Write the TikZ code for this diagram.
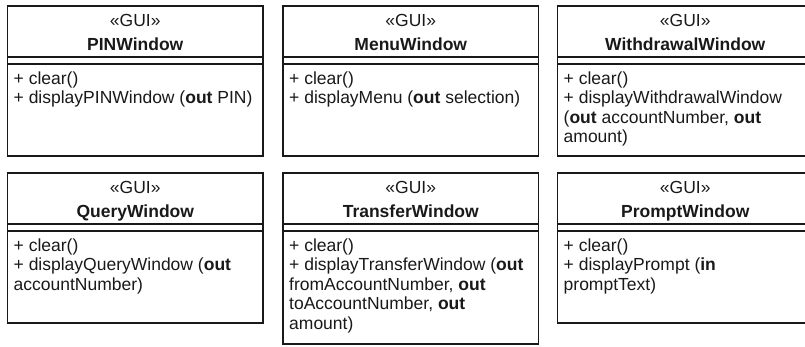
\documentclass[tikz,border=0pt]{standalone}
\usepackage{fontspec}
\setmainfont{Liberation Sans}
\begin{document}
\begin{tikzpicture}[x=1pt,y=-1pt,
  boxline/.style={draw=black!90, line width=1.3pt},
  txt/.style={inner sep=0pt, text=black!90, font=\fontsize{17.5}{19.5}\selectfont},
  stereo/.style={txt, anchor=base},
  cname/.style={txt, anchor=base, font=\fontsize{17.5}{19.5}\selectfont\bfseries},
  opline/.style={txt, anchor=base west}]
\useasboundingbox (0,0) rectangle (805,346);

% Row 1 top = 6, Row 2 top = 173; columns at 7.5, 283, 557.5; width 255.5
\newcommand{\classframe}[4]{% name, left, top, height
  \draw[boxline] (#2,#3) rectangle ++(255.5,#4);
  \draw[boxline] (#2,#3+51) -- ++(255.5,0);
  \draw[boxline] (#2,#3+58) -- ++(255.5,0);
  \coordinate (#1-c) at (#2+127.75,#3);
}

% PINWindow
\classframe{pin}{7.5}{6}{150}
\node[stereo] (pin-st) at ([yshift=-20pt]pin-c) {«GUI»};
\node[cname] (pin-nm) at ([yshift=-44pt]pin-c) {PINWindow};
\node[opline] (pin-o1) at (13.5,84) {+ clear()};
\node[opline] (pin-o2) at (13.5,103.5) {+ displayPINWindow (\textbf{out} PIN)};

% MenuWindow
\classframe{menu}{283}{6}{150}
\node[stereo] (menu-st) at ([yshift=-20pt]menu-c) {«GUI»};
\node[cname] (menu-nm) at ([yshift=-44pt]menu-c) {MenuWindow};
\node[opline] (menu-o1) at (289,84) {+ clear()};
\node[opline] (menu-o2) at (289,103.5) {+ displayMenu (\textbf{out} selection)};

% WithdrawalWindow
\classframe{wd}{557.5}{6}{150}
\node[stereo] (wd-st) at ([yshift=-20pt]wd-c) {«GUI»};
\node[cname] (wd-nm) at ([yshift=-44pt]wd-c) {WithdrawalWindow};
\node[opline] (wd-o1) at (563.5,84) {+ clear()};
\node[opline] (wd-o2) at (563.5,103.5) {+ displayWithdrawalWindow};
\node[opline] (wd-o3) at (563.5,123) {(\textbf{out} accountNumber, \textbf{out}};
\node[opline] (wd-o4) at (563.5,142.5) {amount)};

% QueryWindow
\classframe{qw}{7.5}{173}{150}
\node[stereo] (qw-st) at ([yshift=-20pt]qw-c) {«GUI»};
\node[cname] (qw-nm) at ([yshift=-44pt]qw-c) {QueryWindow};
\node[opline] (qw-o1) at (13.5,251) {+ clear()};
\node[opline] (qw-o2) at (13.5,270.5) {+ displayQueryWindow (\textbf{out}};
\node[opline] (qw-o3) at (13.5,290) {accountNumber)};

% TransferWindow
\classframe{tw}{283}{173}{171}
\node[stereo] (tw-st) at ([yshift=-20pt]tw-c) {«GUI»};
\node[cname] (tw-nm) at ([yshift=-44pt]tw-c) {TransferWindow};
\node[opline] (tw-o1) at (289,251) {+ clear()};
\node[opline] (tw-o2) at (289,270.5) {+ displayTransferWindow (\textbf{out}};
\node[opline] (tw-o3) at (289,290) {fromAccountNumber, \textbf{out}};
\node[opline] (tw-o4) at (289,309.5) {toAccountNumber, \textbf{out}};
\node[opline] (tw-o5) at (289,329) {amount)};

% PromptWindow
\classframe{pw}{557.5}{173}{150}
\node[stereo] (pw-st) at ([yshift=-20pt]pw-c) {«GUI»};
\node[cname] (pw-nm) at ([yshift=-44pt]pw-c) {PromptWindow};
\node[opline] (pw-o1) at (563.5,251) {+ clear()};
\node[opline] (pw-o2) at (563.5,270.5) {+ displayPrompt (\textbf{in}};
\node[opline] (pw-o3) at (563.5,290) {promptText)};
\end{tikzpicture}
\end{document}
